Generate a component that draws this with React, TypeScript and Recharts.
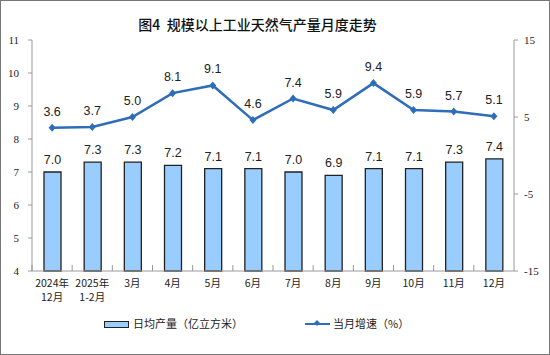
import React from 'react';
import { ComposedChart, Bar, Line, XAxis, YAxis, LabelList } from 'recharts';

const months = ['2024年\n12月', '2025年\n1-2月', '3月', '4月', '5月', '6月', '7月', '8月', '9月', '10月', '11月', '12月'];
const dailyOutput = [7.0, 7.3, 7.3, 7.2, 7.1, 7.1, 7.0, 6.9, 7.1, 7.1, 7.3, 7.4];
const growth = [3.6, 3.7, 5.0, 8.1, 9.1, 4.6, 7.4, 5.9, 9.4, 5.9, 5.7, 5.1];
const leftTicks = [4, 5, 6, 7, 8, 9, 10, 11];
const rightTicks = [-15, -5, 5, 15];

const title = '图4  规模以上工业天然气产量月度走势';
const barName = '日均产量（亿立方米）';
const lineName = '当月增速（%）';

const data = months.map((m, i) => ({ month: m, output: dailyOutput[i], growth: growth[i] }));

const W = 550;
const H = 355;
const LEFT_W = 32;
const RIGHT_W = 36;
const BAND = (W - LEFT_W - RIGHT_W) / months.length;

const cjk = '"Noto Sans CJK SC", "Noto Sans", sans-serif';
const serif = '"Liberation Serif", "DejaVu Serif", serif';
const sans = '"Liberation Sans", Arial, sans-serif';

const XTick = (props: any) => {
  const { x, y, payload } = props;
  const lines = String(payload.value).split('\n');
  return (
    <g>
      <line x1={x - BAND / 2} x2={x - BAND / 2} y1={y - 6} y2={y} stroke="#999" strokeWidth={1} />
      <text x={x} y={y} textAnchor="middle" fontFamily={cjk} fontSize={10.5} fill="#222">
        {lines.map((l, i) => (
          <tspan key={i} x={x} dy={i === 0 ? 16 : 14}>{l}</tspan>
        ))}
      </text>
    </g>
  );
};

export default function App() {
  return (
    <div style={{ position: 'absolute', left: 0, top: 0, width: W, height: H, background: '#fff' }}>
      <div style={{ position: 'absolute', left: 0, top: 14, width: 515, textAlign: 'center', fontFamily: cjk, fontSize: 14, fontWeight: 500, color: '#111', whiteSpace: 'pre' }}>{title}</div>
      <div style={{ position: 'absolute', left: 0, top: 0 }}>
        <ComposedChart width={W} height={H} data={data} margin={{ top: 40, right: 0, left: 0, bottom: 40 }}>
          <XAxis dataKey="month" interval={0} height={44} tickSize={0} tickMargin={0} tickLine={false} axisLine={{ stroke: '#999' }} tick={<XTick />} />
          <YAxis yAxisId="left" domain={[4, 11]} ticks={leftTicks} width={LEFT_W} tickSize={4} tickMargin={9} axisLine={{ stroke: '#999' }} tickLine={{ stroke: '#999' }} tick={{ fontFamily: serif, fontSize: 11, fill: '#222' }} interval={0} />
          <YAxis yAxisId="right" orientation="right" domain={[-15, 15]} ticks={rightTicks} width={RIGHT_W} tickSize={4} tickMargin={6} axisLine={{ stroke: '#999' }} tickLine={{ stroke: '#999' }} tick={{ fontFamily: serif, fontSize: 11, fill: '#222' }} interval={0} />
          <Bar yAxisId="left" dataKey="output" barSize={17} fill="#99CCFF" stroke="#222" strokeWidth={1.3} isAnimationActive={false}>
            <LabelList dataKey="output" position="top" offset={8} formatter={(v: any) => Number(v).toFixed(1)} style={{ fontFamily: sans, fontSize: 12.5, fill: '#222' }} />
          </Bar>
          <Line yAxisId="right" dataKey="growth" stroke="#2E6DB9" strokeWidth={2.5} isAnimationActive={false}
            dot={(p: any) => (
              <path key={p.index} d={`M${p.cx},${p.cy - 4}L${p.cx + 3.5},${p.cy}L${p.cx},${p.cy + 4}L${p.cx - 3.5},${p.cy}Z`} fill="#2E6DB9" />
            )}>
            <LabelList dataKey="growth" position="top" offset={12} formatter={(v: any) => Number(v).toFixed(1)} style={{ fontFamily: sans, fontSize: 12.5, fill: '#222' }} />
          </Line>
        </ComposedChart>
      </div>
      <div style={{ position: 'absolute', left: 104, top: 321, width: 23, height: 5, background: '#99CCFF', border: '1.3px solid #222' }} />
      <div style={{ position: 'absolute', left: 133, top: 315, fontFamily: cjk, fontSize: 11, color: '#222', whiteSpace: 'nowrap' }}>{barName}</div>
      <div style={{ position: 'absolute', left: 305, top: 323, width: 25, height: 2, background: '#2E6DB9' }} />
      <div style={{ position: 'absolute', left: 314, top: 320, width: 6, height: 6, background: '#2E6DB9', transform: 'rotate(45deg) scale(0.7)' }} />
      <div style={{ position: 'absolute', left: 333, top: 315, fontFamily: cjk, fontSize: 11, color: '#222', whiteSpace: 'nowrap' }}>{lineName}</div>
      <div style={{ position: 'absolute', left: 0, top: 0, width: W, height: H, boxSizing: 'border-box', border: '1px solid #777', pointerEvents: 'none' }} />
    </div>
  );
}
